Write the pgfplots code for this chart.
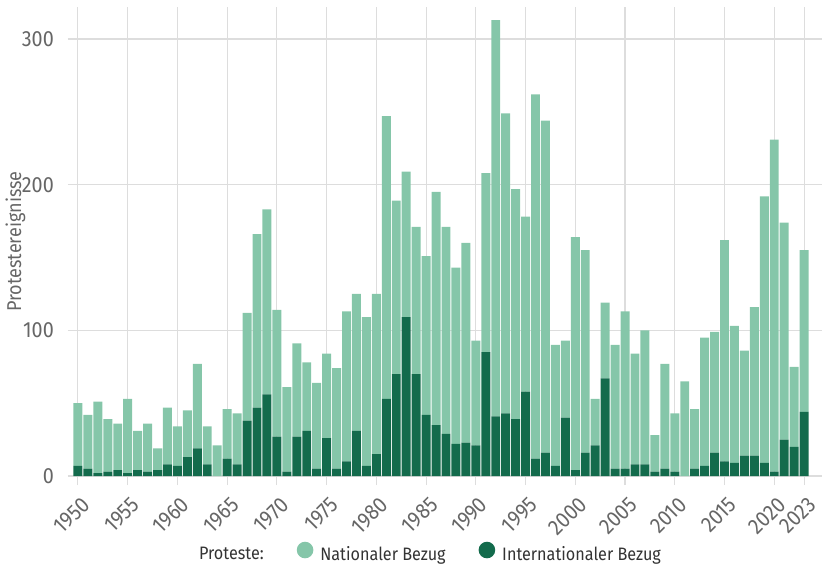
\documentclass[border=0pt]{standalone}
\usepackage{pgfplots}
\pgfplotsset{compat=1.18}
\usepackage{pgfplotstable}
\usepackage{fontspec}
\setmainfont{Fira Sans}[FakeStretch=0.9]
\definecolor{natcol}{HTML}{85C6A9}
\definecolor{intcol}{HTML}{136B4C}
\definecolor{gridcol}{HTML}{DDDDDD}
\definecolor{txtcol}{HTML}{666666}
\definecolor{legcol}{HTML}{333333}

\pgfplotstableread{
year intl nat
1950 7 43
1951 5 37
1952 2 49
1953 3 36
1954 4 32
1955 2 51
1956 4 27
1957 3 33
1958 4 15
1959 8 39
1960 7 27
1961 13 32
1962 19 58
1963 8 26
1964 0 21
1965 12 34
1966 8 35
1967 38 74
1968 47 119
1969 56 127
1970 27 87
1971 3 58
1972 27 64
1973 31 47
1974 5 59
1975 26 58
1976 5 69
1977 10 103
1978 31 94
1979 7 102
1980 15 110
1981 53 194
1982 70 119
1983 109 100
1984 70 101
1985 42 109
1986 35 160
1987 29 142
1988 22 121
1989 23 137
1990 21 72
1991 85 123
1992 41 272
1993 43 206
1994 39 158
1995 58 120
1996 12 250
1997 16 228
1998 7 83
1999 40 53
2000 4 160
2001 16 139
2002 21 32
2003 67 52
2004 5 85
2005 5 108
2006 8 76
2007 8 92
2008 3 25
2009 5 72
2010 3 40
2011 0 65
2012 5 41
2013 7 88
2014 16 83
2015 10 152
2016 9 94
2017 14 72
2018 14 102
2019 9 183
2020 3 228
2021 25 149
2022 20 55
2023 44 111
}\data

\begin{document}
\begin{tikzpicture}
\path[use as bounding box] (-68pt,-90pt) rectangle (755pt,476pt);
\begin{axis}[
  at={(0pt,0pt)}, anchor=south west,
  scale only axis, width=754pt, height=469pt,
  xmin=1949, xmax=2024.8, ymin=0, ymax=322,
  ybar stacked, bar width=0.9,
  axis line style={draw=none},
  xtick={1950,1955,1960,1965,1970,1975,1980,1985,1990,1995,2000,2005,2010,2015,2020,2023},
  xticklabels={1950,1955,1960,1965,1970,1975,1980,1985,1990,1995,2000,2005,2010,2015,2020,2023},
  ytick={0,100,200,300},
  yticklabels={0,100,200,300},
  grid=major,
  major grid style={gridcol, line width=1.1pt},
  tick align=outside, xtick pos=bottom, ytick pos=left,
  major tick length=9pt,
  xtick style={gridcol, line width=1.1pt},
  ytick style={draw=none},
  xticklabel style={font=\fontsize{22}{26}\selectfont, text=txtcol, inner sep=0pt, xshift=8pt, yshift=-16pt, rotate=45, anchor=east},
  yticklabel style={font=\fontsize{22}{26}\selectfont, text=txtcol, inner sep=0pt, anchor=east, xshift=-5pt},
  ylabel={Protestereignisse},
  ylabel style={at={(axis description cs:-0.0696,0.5)}, anchor=center, font=\fontsize{20}{24}\selectfont, text=txtcol},
  legend image code/.code={\fill[#1] (0pt,0.45em) circle (8.3pt);},
  legend style={draw=none, fill=none, at={(0.4768,-0.1642)}, anchor=center,
    font=\fontsize{18}{21}\selectfont, text=legcol, legend columns=3,
    /tikz/every even column/.append style={column sep=31pt},
    /tikz/every odd column/.append style={column sep=5pt}},
]
\addlegendimage{empty legend}
\addlegendentry{Proteste:}
\addlegendimage{fill=natcol, draw=none}
\addlegendentry{Nationaler Bezug}
\addlegendimage{fill=intcol, draw=none}
\addlegendentry{Internationaler Bezug}
\addplot[fill=intcol, draw=none] table[x=year, y=intl] {\data};
\addplot[fill=natcol, draw=none] table[x=year, y=nat] {\data};
\end{axis}
\end{tikzpicture}
\end{document}
